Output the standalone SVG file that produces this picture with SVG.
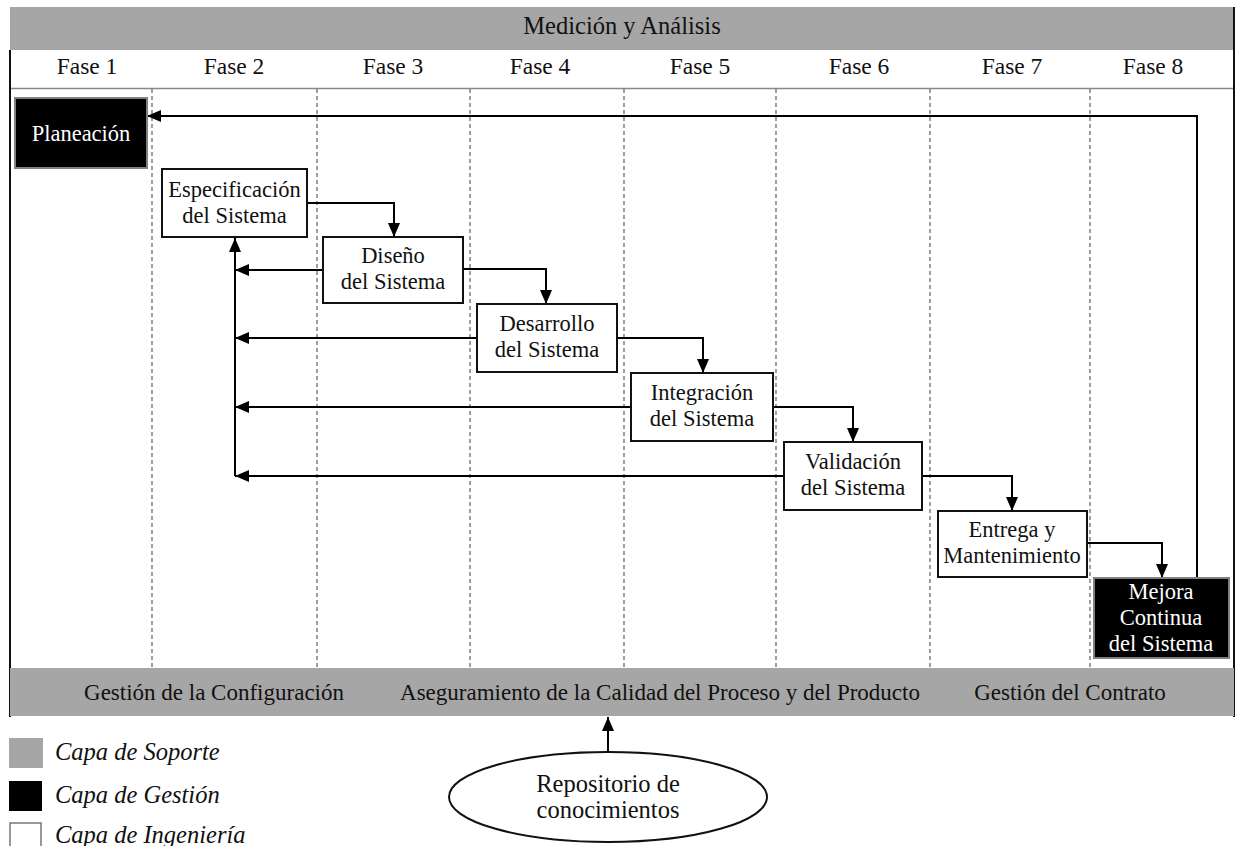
<svg xmlns="http://www.w3.org/2000/svg" width="1236" height="846" viewBox="0 0 1236 846" font-family="'Liberation Serif', 'Tinos', 'DejaVu Serif', serif">
  <style>
    .band { fill: #a6a6a6; }
    .t { font-family: 'Liberation Serif', 'Tinos', 'DejaVu Serif', serif; fill: #111; text-anchor: middle; }
    .top { font-size: 24.5px; }
    .hdr { font-size: 23.5px; }
    .sup { font-size: 23px; }
    .lbl { font-size: 22.5px; }
    .rep { font-size: 24.5px; }
    .wt { fill: #fff; }
    .leg { font-family: 'Liberation Serif', 'Tinos', 'DejaVu Serif', serif; font-style: italic; font-size: 24.5px; fill: #111; }
    .eng { fill: #fff; stroke: #111; stroke-width: 2; }
    .mgmt { fill: #000; stroke: #808080; stroke-width: 2; }
    .lane { stroke: #6a6a6a; stroke-width: 1.3; stroke-dasharray: 4 3; fill: none; }
    .conn { stroke: #000; stroke-width: 2; fill: none; }
  </style>
  <defs>
    <marker id="arrow" markerUnits="userSpaceOnUse" markerWidth="15" markerHeight="12" refX="14" refY="6" orient="auto">
      <path d="M0,0 L14,6 L0,12 Z" fill="#000"/>
    </marker>
  </defs>

  <rect width="1236" height="846" fill="#fff"/>

  <!-- support layer: top band -->
  <g id="medicion">
    <rect class="band" x="10" y="7" width="1224" height="43"/>
    <text class="t top" x="622" y="34">Medición y Análisis</text>
  </g>

  <!-- phase header row -->
  <g id="fases">
    <text class="t hdr" x="87" y="74">Fase 1</text>
    <text class="t hdr" x="234" y="74">Fase 2</text>
    <text class="t hdr" x="393" y="74">Fase 3</text>
    <text class="t hdr" x="540" y="74">Fase 4</text>
    <text class="t hdr" x="700" y="74">Fase 5</text>
    <text class="t hdr" x="859" y="74">Fase 6</text>
    <text class="t hdr" x="1012" y="74">Fase 7</text>
    <text class="t hdr" x="1153" y="74">Fase 8</text>
    <line x1="10" y1="88.5" x2="1234" y2="88.5" stroke="#888" stroke-width="1.5"/>
  </g>

  <!-- frame and phase lanes -->
  <g id="marco">
    <line x1="10" y1="50" x2="10" y2="717" stroke="#111" stroke-width="2"/>
    <line x1="1234" y1="7" x2="1234" y2="717" stroke="#111" stroke-width="2"/>
    <line class="lane" x1="152" y1="89" x2="152" y2="668"/>
    <line class="lane" x1="317" y1="89" x2="317" y2="668"/>
    <line class="lane" x1="470" y1="89" x2="470" y2="668"/>
    <line class="lane" x1="624" y1="89" x2="624" y2="668"/>
    <line class="lane" x1="776" y1="89" x2="776" y2="668"/>
    <line class="lane" x1="930" y1="89" x2="930" y2="668"/>
    <line class="lane" x1="1090" y1="89" x2="1090" y2="668"/>
  </g>

  <!-- connectors -->
  <g id="conectores">
    <!-- forward flow -->
    <path class="conn" d="M307,203 H394 V237" marker-end="url(#arrow)"/>
    <path class="conn" d="M463,269 H546 V304" marker-end="url(#arrow)"/>
    <path class="conn" d="M617,338 H703 V373" marker-end="url(#arrow)"/>
    <path class="conn" d="M773,407 H853 V442" marker-end="url(#arrow)"/>
    <path class="conn" d="M922,476 H1012 V511" marker-end="url(#arrow)"/>
    <path class="conn" d="M1087,543 H1162 V578" marker-end="url(#arrow)"/>
    <!-- improvement loop back to planning -->
    <path class="conn" d="M1197,578 V116 H147" marker-end="url(#arrow)"/>
    <!-- feedback to specification -->
    <path class="conn" d="M235,476 V238" marker-end="url(#arrow)"/>
    <path class="conn" d="M323,270 H235" marker-end="url(#arrow)"/>
    <path class="conn" d="M477,338 H235" marker-end="url(#arrow)"/>
    <path class="conn" d="M631,407 H235" marker-end="url(#arrow)"/>
    <path class="conn" d="M784,476 H235" marker-end="url(#arrow)"/>
    <!-- repository to quality band -->
    <path class="conn" d="M608,752 V717" marker-end="url(#arrow)"/>
  </g>

  <g id="planeacion">
    <rect class="mgmt" x="15" y="98" width="132" height="70"/>
    <text class="t lbl wt" x="81" y="141">Planeación</text>
  </g>

  <g id="especificacion">
    <rect class="eng" x="162" y="169" width="145" height="68"/>
    <text class="t lbl" x="234.5" y="197">Especificación</text>
    <text class="t lbl" x="234.5" y="223">del Sistema</text>
  </g>

  <g id="diseno">
    <rect class="eng" x="323" y="237" width="140" height="66"/>
    <text class="t lbl" x="393" y="263">Diseño</text>
    <text class="t lbl" x="393" y="289">del Sistema</text>
  </g>

  <g id="desarrollo">
    <rect class="eng" x="477" y="304" width="140" height="68"/>
    <text class="t lbl" x="547" y="331">Desarrollo</text>
    <text class="t lbl" x="547" y="357">del Sistema</text>
  </g>

  <g id="integracion">
    <rect class="eng" x="631" y="373" width="142" height="68"/>
    <text class="t lbl" x="702" y="400">Integración</text>
    <text class="t lbl" x="702" y="426">del Sistema</text>
  </g>

  <g id="validacion">
    <rect class="eng" x="784" y="442" width="138" height="68"/>
    <text class="t lbl" x="853" y="469">Validación</text>
    <text class="t lbl" x="853" y="495">del Sistema</text>
  </g>

  <g id="entrega">
    <rect class="eng" x="938" y="511" width="149" height="66"/>
    <text class="t lbl" x="1012" y="537">Entrega y</text>
    <text class="t lbl" x="1012" y="563">Mantenimiento</text>
  </g>

  <g id="mejora">
    <rect class="mgmt" x="1094" y="578" width="135" height="80"/>
    <text class="t lbl wt" x="1161" y="599">Mejora</text>
    <text class="t lbl wt" x="1161" y="625">Continua</text>
    <text class="t lbl wt" x="1161" y="651">del Sistema</text>
  </g>

  <!-- support layer: bottom band -->
  <g id="soporte">
    <rect class="band" x="10" y="668" width="1224" height="48"/>
    <text class="t sup" x="214" y="700">Gestión de la Configuración</text>
    <text class="t sup" x="660" y="700">Aseguramiento de la Calidad del Proceso y del Producto</text>
    <text class="t sup" x="1070" y="700">Gestión del Contrato</text>
  </g>

  <g id="repositorio">
    <ellipse cx="608" cy="797" rx="159" ry="45" fill="#fff" stroke="#111" stroke-width="2"/>
    <text class="t rep" x="608" y="792">Repositorio de</text>
    <text class="t rep" x="608" y="818">conocimientos</text>
  </g>

  <!-- legend -->
  <g id="leyenda">
    <rect x="9" y="738" width="34" height="30" fill="#a6a6a6"/>
    <text class="leg" x="55" y="760">Capa de Soporte</text>
    <rect x="9" y="781" width="33" height="30" fill="#000"/>
    <text class="leg" x="55" y="803">Capa de Gestión</text>
    <rect x="10" y="823" width="31" height="30" fill="#fff" stroke="#777" stroke-width="1.5"/>
    <text class="leg" x="55" y="843">Capa de Ingeniería</text>
  </g>
</svg>
